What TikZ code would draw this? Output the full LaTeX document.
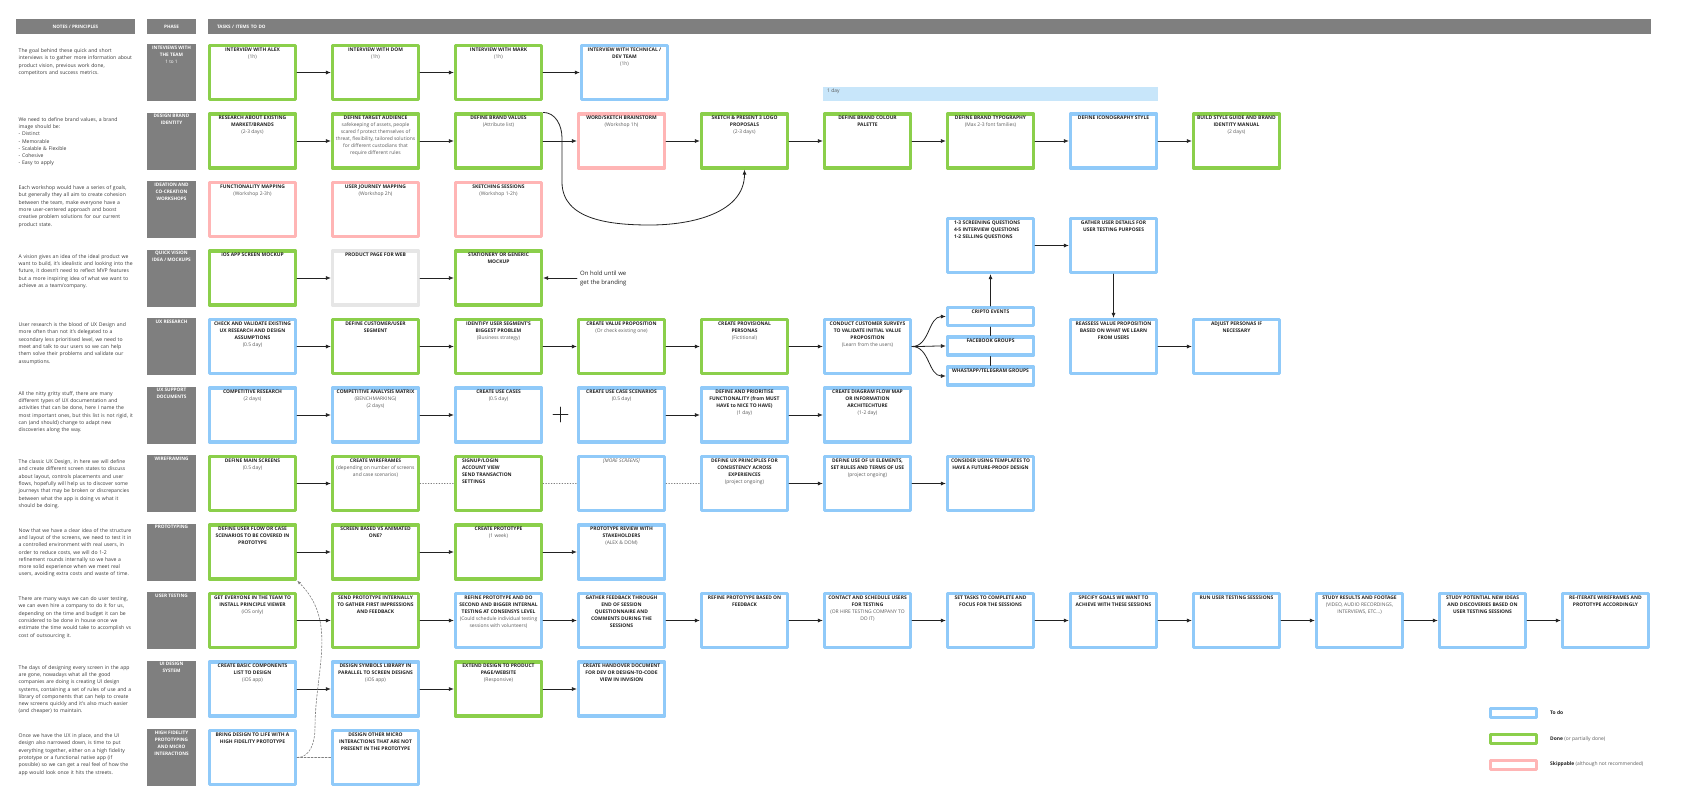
\documentclass[tikz,border=0pt]{standalone}
\usepackage{fontspec}
\setmainfont{Open Sans}
\usetikzlibrary{arrows.meta}
\definecolor{ink}{HTML}{222222}
\definecolor{mute}{HTML}{5A5A5A}
\definecolor{sky}{HTML}{90CAF9}
\definecolor{leaf}{HTML}{8BCF4B}
\definecolor{rose}{HTML}{FFB5B5}
\definecolor{ash}{HTML}{E6E6E6}
\definecolor{slate}{HTML}{7F7F7F}
\definecolor{band}{HTML}{C8E6FA}

\newcommand{\tsz}{\fontsize{4.95}{7}\selectfont}
\newcommand{\nsz}{\fontsize{5.1}{7.3}\selectfont}
\newcommand{\hsz}{\fontsize{4.6}{5}\selectfont}
\newcommand{\tsk}[2]{\parbox[t][50pt][t]{83pt}{\centering\bfseries #1\par{\mdseries\color{mute}#2}}}
\newcommand{\tskl}[1]{\parbox[t][50pt][t]{83pt}{\raggedright\leftskip=5pt\bfseries #1}}
\newcommand{\tg}[1]{\parbox[t][14pt][t]{83pt}{\centering\bfseries #1}}
\newcommand{\phs}[1]{\parbox[t][53pt][t]{45pt}{\centering\bfseries #1}}

\begin{document}
\begin{tikzpicture}[x=1pt,y=-1pt,font=\tsz,>=Latex,line cap=round,line join=round,
  task/.style={draw,line width=3.2pt,minimum width=86pt,minimum height=54pt,
    inner sep=1.5pt,fill=white,text=ink},
  todo/.style={task,draw=sky},
  done/.style={task,draw=leaf},
  skip/.style={task,draw=rose},
  idle/.style={task,draw=ash},
  tag/.style={draw=sky,line width=3.2pt,minimum width=86pt,minimum height=18pt,
    inner sep=1.5pt,fill=white,text=ink},
  stage/.style={fill=slate,text=white,inner sep=2pt,font=\fontsize{4.7}{7}\selectfont},
  head/.style={fill=slate,text=white,minimum height=15pt,inner sep=0pt,font=\hsz\bfseries},
  note/.style={anchor=north west,text width=124pt,align=left,inner sep=0pt,font=\nsz,text=ink!90},
  flow/.style={-{Latex[length=5pt,width=4pt]},ink,line width=0.8pt},
  dots/.style={ash!55!black,line width=0.7pt,dotted},
  link/.style={ash!55!black,line width=0.6pt,dash pattern=on 2pt off 1.5pt},
  swatch/.style={line width=3pt,minimum width=46pt,minimum height=9pt,inner sep=0pt,fill=white}]
  \useasboundingbox (0,0) rectangle (1684,807);

  % headers
  \node[head,minimum width=119pt] (hnote) at (75.5,26.5) {NOTES / PRINCIPLES};
  \node[head,minimum width=49pt] (hphase) at (171.5,26.5) {PHASE};
  \node[head,minimum width=1443pt,text width=1425pt,align=left] (htask) at (929.5,26.5)
    {TASKS / ITEMS TO DO};

  % phases
  \node[stage] (ph1) at (171.5,72.5) {\phs{INTEVIEWS WITH\\THE TEAM\\{\mdseries 1 to 1}}};
  \node[stage] (ph2) at (171.5,141) {\phs{DESIGN BRAND\\IDENTITY}};
  \node[stage] (ph3) at (171.5,209.5) {\phs{IDEATION AND\\CO-CREATION\\WORKSHOPS}};
  \node[stage] (ph4) at (171.5,278) {\phs{QUICK VISION\\IDEA / MOCKUPS}};
  \node[stage] (ph5) at (171.5,346.5) {\phs{UX RESEARCH}};
  \node[stage] (ph6) at (171.5,415) {\phs{UX SUPPORT\\DOCUMENTS}};
  \node[stage] (ph7) at (171.5,483.5) {\phs{WIREFRAMING}};
  \node[stage] (ph8) at (171.5,552) {\phs{PROTOTYPING}};
  \node[stage] (ph9) at (171.5,620.5) {\phs{USER TESTING}};
  \node[stage] (ph10) at (171.5,689) {\phs{UI DESIGN\\SYSTEM}};
  \node[stage] (ph11) at (171.5,757.5) {\phs{HIGH FIDELITY\\PROTOTYPING\\AND MICRO\\INTERACTIONS}};

  % notes
  \node[note] (n1) at (18.5,48.5) {The goal behind these quick and short\\
    interviews is to gather more information about\\product vision, previous work done,\\
    competitors and success metrics.};
  \node[note] (n2) at (18.5,117) {We need to define brand values, a brand\\image should be:\\
    - Distinct\\- Memorable\\- Scalable \& Flexible\\- Cohesive\\- Easy to apply};
  \node[note] (n3) at (18.5,185.5) {Each workshop would have a series of goals,\\
    but generally they all aim to create cohesion\\between the team, make everyone have a\\
    more user-centered approach and boost\\creative problem solutions for our current\\
    product state.};
  \node[note] (n4) at (18.5,254) {A vision gives an idea of the ideal product we\\
    want to build, it's idealistic and looking into the\\
    future, it doesn't need to reflect MVP features\\
    but a more inspiring idea of what we want to\\achieve as a team/company.};
  \node[note] (n5) at (18.5,322.5) {User research is the blood of UX Design and\\
    more often than not it's delegated to a\\secondary less prioritised level, we need to\\
    meet and talk to our users so we can help\\them solve their problems and validate our\\
    assumptions.};
  \node[note] (n6) at (18.5,391) {All the nitty gritty stuff, there are many\\
    different types of UX documentation and\\activities that can be done, here I name the\\
    most important ones, but this list is not rigid, it\\can (and should) change to adapt new\\
    discoveries along the way.};
  \node[note] (n7) at (18.5,459.5) {The classic UX Design, in here we will define\\
    and create different screen states to discuss\\about layout, controls placements and user\\
    flows, hopefully will help us to discover some\\journeys that may be broken or discrepancies\\
    between what the app is doing vs what it\\should be doing.};
  \node[note] (n8) at (18.5,528) {Now that we have a clear idea of the structure\\
    and layout of the screens, we need to test it in\\a controlled environment with real users, in\\
    order to reduce costs, we will do 1-2\\refinement rounds internally so we have a\\
    more solid experience when we meet real\\users, avoiding extra costs and waste of time.};
  \node[note] (n9) at (18.5,596.5) {There are many ways we can do user testing,\\
    we can even hire a company to do it for us,\\depending on the time and budget it can be\\
    considered to be done in house once we\\estimate the time would take to accomplish vs\\
    cost of outsourcing it.};
  \node[note] (n10) at (18.5,665) {The days of designing every screen in the app\\
    are gone, nowadays what all the good\\companies are doing is creating UI design\\
    systems, containing a set of rules of use and a\\library of components that can help to create\\
    new screens quickly and it's also much easier\\(and cheaper) to maintain.};
  \node[note] (n11) at (18.5,733.5) {Once we have the UX in place, and the UI\\
    design also narrowed down, is time to put\\everything together, either on a high fidelity\\
    prototype or a functional native app (if\\possible) so we can get a real feel of how the\\
    app would look once it hits the streets.};

  % interviews
  \node[done] (i1) at (252.5,72.5) {\tsk{INTERVIEW WITH ALEX}{(1h)}};
  \node[done] (i2) at (375.5,72.5) {\tsk{INTERVIEW WITH DOM}{(1h)}};
  \node[done] (i3) at (498.5,72.5) {\tsk{INTERVIEW WITH MARK}{(1h)}};
  \node[todo] (i4) at (624.5,72.5) {\tsk{INTERVIEW WITH TECHNICAL /\\DEV TEAM}{(1h)}};

  % brand identity
  \node[fill=band,minimum width=335pt,minimum height=14pt,inner sep=0pt,anchor=north west]
    (day) at (823,87) {};
  \node[anchor=west,inner sep=0pt,text=mute] (daytxt) at (827,91.5) {1 day};
  \node[done] (b1) at (252.5,141) {\tsk{RESEARCH ABOUT EXISTING\\MARKET/BRANDS}{(2-3 days)}};
  \node[done] (b2) at (375.5,141) {\tsk{DEFINE TARGET AUDIENCE}{safekeeping of assets, people\\
    scared f protect themselves of\\threat, flexibility, tailored solutions\\
    for different custodians that\\require different rules}};
  \node[done] (b3) at (498.5,141) {\tsk{DEFINE BRAND VALUES}{(Attribute list)}};
  \node[skip] (b4) at (621.5,141) {\tsk{WORD/SKETCH BRAINSTORM}{(Workshop 1h)}};
  \node[done] (b5) at (744.5,141) {\tsk{SKETCH \& PRESENT 3 LOGO\\PROPOSALS}{(2-3 days)}};
  \node[done] (b6) at (867.5,141) {\tsk{DEFINE BRAND COLOUR\\PALETTE}{}};
  \node[done] (b7) at (990.5,141) {\tsk{DEFINE BRAND TYPOGRAPHY}{(Max 2-3 font families)}};
  \node[todo] (b8) at (1113.5,141) {\tsk{DEFINE ICONOGRAPHY STYLE}{}};
  \node[done] (b9) at (1236.5,141) {\tsk{BUILD STYLE GUIDE AND BRAND\\IDENTITY MANUAL}{(2 days)}};

  % workshops
  \node[skip] (w1) at (252.5,209.5) {\tsk{FUNCTIONALITY MAPPING}{(Workshop 2-3h)}};
  \node[skip] (w2) at (375.5,209.5) {\tsk{USER JOURNEY MAPPING}{(Workshop 2h)}};
  \node[skip] (w3) at (498.5,209.5) {\tsk{SKETCHING SESSIONS}{(Workshop 1-2h)}};

  % mockups
  \node[done] (q1) at (252.5,278) {\tsk{iOS APP SCREEN MOCKUP}{}};
  \node[idle] (q2) at (375.5,278) {\tsk{PRODUCT PAGE FOR WEB}{}};
  \node[done] (q3) at (498.5,278) {\tsk{STATIONERY OR GENERIC\\MOCKUP}{}};
  \coordinate (holdend) at (577,278);
  \node[anchor=west,align=left,inner sep=0pt,text=ink,font=\fontsize{6}{9}\selectfont]
    (hold) at (580,278) {On hold until we\\get the branding};

  % ux research
  \node[todo] (u1) at (252.5,346.5) {\tsk{CHECK AND VALIDATE EXISTING\\UX RESEARCH AND DESIGN\\
    ASSUMPTIONS}{(0.5 day)}};
  \node[done] (u2) at (375.5,346.5) {\tsk{DEFINE CUSTOMER/USER\\SEGMENT}{}};
  \node[done] (u3) at (498.5,346.5) {\tsk{IDENTIFY USER SEGMENT'S\\BIGGEST PROBLEM}{(Business strategy)}};
  \node[done] (u4) at (621.5,346.5) {\tsk{CREATE VALUE PROPOSITION}{(Or check existing one)}};
  \node[done] (u5) at (744.5,346.5) {\tsk{CREATE PROVISIONAL\\PERSONAS}{(Fictitional)}};
  \node[todo] (u6) at (867.5,346.5) {\tsk{CONDUCT CUSTOMER SURVEYS\\TO VALIDATE INITIAL VALUE\\
    PROPOSITION}{(Learn from the users)}};
  \node[tag] (g1) at (990.5,316.5) {\tg{CRIPTO EVENTS}};
  \node[tag] (g2) at (990.5,346) {\tg{FACEBOOK GROUPS}};
  \node[tag] (g3) at (990.5,376) {\tg{WHASTAPP/TELEGRAM GROUPS}};
  \node[todo] (sq) at (990.5,245.5) {\tskl{1-3 SCREENING QUESTIONS\\4-5 INTERVIEW QUESTIONS\\
    1-2 SELLING QUESTIONS}};
  \node[todo] (gd) at (1113.5,245.5) {\tsk{GATHER USER DETAILS FOR\\USER TESTING PURPOSES}{}};
  \node[todo] (rv) at (1113.5,346.5) {\tsk{REASSESS VALUE PROPOSITION\\BASED ON WHAT WE LEARN\\
    FROM USERS}{}};
  \node[todo] (ap) at (1236.5,346.5) {\tsk{ADJUST PERSONAS IF\\NECESSARY}{}};

  % ux support documents
  \node[todo] (d1) at (252.5,415) {\tsk{COMPETITIVE RESEARCH}{(2 days)}};
  \node[todo] (d2) at (375.5,415) {\tsk{COMPETITIVE ANALYSIS MATRIX}{(BENCHMARKING)\\(2 days)}};
  \node[todo] (d3) at (498.5,415) {\tsk{CREATE USE CASES}{(0.5 day)}};
  \coordinate (plus) at (560.5,414.5);
  \node[todo] (d4) at (621.5,415) {\tsk{CREATE USE CASE SCENARIOS}{(0.5 day)}};
  \node[todo] (d5) at (744.5,415) {\tsk{DEFINE AND PRIORITISE\\FUNCTIONALITY (from MUST\\
    HAVE to NICE TO HAVE)}{(1 day)}};
  \node[todo] (d6) at (867.5,415) {\tsk{CREATE DIAGRAM FLOW MAP\\OR INFORMATION\\
    ARCHITECHTURE}{(1-2 day)}};

  % wireframing
  \node[done] (f1) at (252.5,483.5) {\tsk{DEFINE MAIN SCREENS}{(0.5 day)}};
  \node[done] (f2) at (375.5,483.5) {\tsk{CREATE WIREFRAMES}{(depending on number of screens\\
    and case scenarios)}};
  \node[done] (f3) at (498.5,483.5) {\tskl{SIGNUP/LOGIN\\ACCOUNT VIEW\\SEND TRANSACTION\\SETTINGS}};
  \node[todo] (f4) at (621.5,483.5) {\tsk{\mdseries\itshape\color{mute}[MORE SCREENS]}{}};
  \node[todo] (f5) at (744.5,483.5) {\tsk{DEFINE UX PRINCIPLES FOR\\CONSISTENCY ACROSS\\
    EXPERIENCES}{(project ongoing)}};
  \node[todo] (f6) at (867.5,483.5) {\tsk{DEFINE USE OF UI ELEMENTS,\\SET RULES AND TERMS OF USE}
    {(project ongoing)}};
  \node[todo] (f7) at (990.5,483.5) {\tsk{CONSIDER USING TEMPLATES TO\\HAVE A FUTURE-PROOF DESIGN}{}};

  % prototyping
  \node[done] (p1) at (252.5,552) {\tsk{DEFINE USER FLOW OR CASE\\SCENARIOS TO BE COVERED IN\\
    PROTOTYPE}{}};
  \node[done] (p2) at (375.5,552) {\tsk{SCREEN BASED VS ANIMATED\\ONE?}{}};
  \node[done] (p3) at (498.5,552) {\tsk{CREATE PROTOTYPE}{(1 week)}};
  \node[todo] (p4) at (621.5,552) {\tsk{PROTOTYPE REVIEW WITH\\STAKEHOLDERS}{(ALEX \& DOM)}};

  % user testing
  \node[done] (t1) at (252.5,620.5) {\tsk{GET EVERYONE IN THE TEAM TO\\INSTALL PRINCIPLE VIEWER}
    {(iOS only)}};
  \node[done] (t2) at (375.5,620.5) {\tsk{SEND PROTOTYPE INTERNALLY\\TO GATHER FIRST IMPRESSIONS\\
    AND FEEDBACK}{}};
  \node[todo] (t3) at (498.5,620.5) {\tsk{REFINE PROTOTYPE AND DO\\SECOND AND BIGGER INTERNAL\\
    TESTING AT CONSENSYS LEVEL}{(Could schedule individual testing\\sessions with volunteers)}};
  \node[todo] (t4) at (621.5,620.5) {\tsk{GATHER FEEDBACK THROUGH\\END OF SESSION\\
    QUESTIONNAIRE AND\\COMMENTS DURING THE\\SESSIONS}{}};
  \node[todo] (t5) at (744.5,620.5) {\tsk{REFINE PROTOTYPE BASED ON\\FEEDBACK}{}};
  \node[todo] (t6) at (867.5,620.5) {\tsk{CONTACT AND SCHEDULE USERS\\FOR TESTING}
    {(OR HIRE TESTING COMPANY TO\\DO IT)}};
  \node[todo] (t7) at (990.5,620.5) {\tsk{SET TASKS TO COMPLETE AND\\FOCUS FOR THE SESSIONS}{}};
  \node[todo] (t8) at (1113.5,620.5) {\tsk{SPECIFY GOALS WE WANT TO\\ACHIEVE WITH THESE SESSIONS}{}};
  \node[todo] (t9) at (1236.5,620.5) {\tsk{RUN USER TESTING SESSSIONS}{}};
  \node[todo] (t10) at (1359.5,620.5) {\tsk{STUDY RESULTS AND FOOTAGE}{(VIDEO, AUDIO RECORDINGS,\\
    INTERVIEWS, ETC...)}};
  \node[todo] (t11) at (1482.5,620.5) {\tsk{STUDY POTENTIAL NEW IDEAS\\AND DISCOVERIES BASED ON\\
    USER TESTING SESSIONS}{}};
  \node[todo] (t12) at (1605.5,620.5) {\tsk{RE-ITERATE WIREFRAMES AND\\PROTOTYPE ACCORDINGLY}{}};

  % ui design system
  \node[todo] (s1) at (252.5,689) {\tsk{CREATE BASIC COMPONENTS\\LIST TO DESIGN}{(iOS app)}};
  \node[todo] (s2) at (375.5,689) {\tsk{DESIGN SYMBOLS LIBRARY IN\\PARALLEL TO SCREEN DESIGNS}
    {(iOS app)}};
  \node[done] (s3) at (498.5,689) {\tsk{EXTEND DESIGN TO PRODUCT\\PAGE/WEBSITE}{(Responsive)}};
  \node[todo] (s4) at (621.5,689) {\tsk{CREATE HANDOVER DOCUMENT\\FOR DEV OR DESIGN-TO-CODE\\
    VIEW IN INVISION}{}};

  % high fidelity
  \node[todo] (h1) at (252.5,757.5) {\tsk{BRING DESIGN TO LIFE WITH A\\HIGH FIDELITY PROTOTYPE}{}};
  \node[todo] (h2) at (375.5,757.5) {\tsk{DESIGN OTHER MICRO\\INTERACTIONS THAT ARE NOT\\
    PRESENT IN THE PROTOTYPE}{}};

  % connectors
  \foreach \a/\b in {i1/i2,i2/i3,i3/i4,
      b1/b2,b2/b3,b3/b4,b4/b5,b5/b6,b6/b7,b7/b8,b8/b9,
      q1/q2,q2/q3,holdend/q3,
      u1/u2,u2/u3,u3/u4,u4/u5,u5/u6,g1/sq,sq/gd,gd/rv,rv/ap,
      d1/d2,d2/d3,d4/d5,d5/d6,
      f1/f2,f5/f6,f6/f7,
      p1/p2,p2/p3,p3/p4,
      t1/t2,t2/t3,t3/t4,t4/t5,t5/t6,t6/t7,t7/t8,t8/t9,t9/t10,t10/t11,t11/t12,
      s1/s2,s2/s3,s3/s4}
    \draw[flow] (\a) -- (\b);
  \draw[flow] (b3.north east) to[out=0,in=90] (562,138) -- (562,182)
    to[out=-90,in=180] (650,225) to[out=0,in=-90] (b5.south);
  \foreach \g in {g1,g2,g3}
    \draw[flow] (u6.east) to[out=0,in=180] (\g.west);
  \draw[ink,line width=0.8pt] (g1) -- (g2) (g2) -- (g3);
  \draw[ink,line width=0.8pt] (plus) ++(-7.5,0) -- ++(15,0) (plus) ++(0,-7.5) -- ++(0,15);
  \foreach \a/\b in {f2/f3,f3/f4,f4/f5}
    \draw[dots] (\a) -- (\b);
  \draw[link] (h1) -- (h2);
  \draw[link,-{Latex[length=4pt,width=3pt]}] (h1.east) to[out=0,in=-90] (315,728)
    to[out=90,in=-45] (p1.south east);

  % legend
  \node[swatch,draw=sky] (lg1) at (1513.5,713) {};
  \node[swatch,draw=leaf] (lg2) at (1513.5,739) {};
  \node[swatch,draw=rose] (lg3) at (1513.5,764.5) {};
  \node[anchor=west,inner sep=0pt,text=ink] (lt1) at (1550,713) {\textbf{To do}};
  \node[anchor=west,inner sep=0pt,text=ink] (lt2) at (1550,739)
    {\textbf{Done} {\color{mute}(or partially done)}};
  \node[anchor=west,inner sep=0pt,text=ink] (lt3) at (1550,764.5)
    {\textbf{Skippable} {\color{mute}(although not recommended)}};
\end{tikzpicture}
\end{document}
